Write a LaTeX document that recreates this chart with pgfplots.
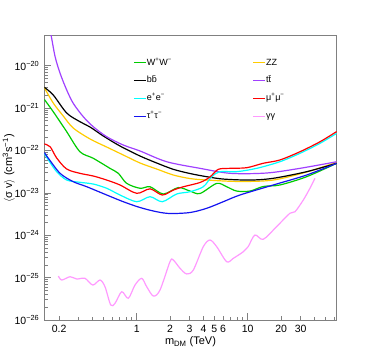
\documentclass[border=0pt]{standalone}
\usepackage{fontspec}
\setmainfont{Liberation Sans}
\usepackage{pgfplots}
\pgfplotsset{compat=1.18}

\definecolor{framegray}{RGB}{128,128,128}
\definecolor{cww}{RGB}{0,204,0}
\definecolor{czz}{RGB}{255,204,0}
\definecolor{cbb}{RGB}{0,0,0}
\definecolor{ctt}{RGB}{160,64,255}
\definecolor{cee}{RGB}{0,255,255}
\definecolor{cmm}{RGB}{255,0,0}
\definecolor{ctau}{RGB}{20,20,240}
\definecolor{cgg}{RGB}{255,153,255}

\begin{document}
\begin{tikzpicture}
\begin{axis}[scale only axis, width=292.4pt, height=285pt,
    xmode=log, ymode=log,
    xmin=0.147, xmax=63.4, ymin=1e-26, ymax=5.27e-20,
    axis line style={draw=framegray, line width=1pt},
    tick style={draw=framegray, line width=0.6pt},
    tick align=inside, xtick pos=left, ytick pos=left,
    major tick length=7pt, minor tick length=3.5pt,
    xtick={1,10}, xticklabels={1,10},
    extra x ticks={0.2,2,3,4,5,6,20,30},
    extra x tick labels={0.2,2,3,4,5,6,20,30},
    extra x tick style={major tick length=4pt},
    minor xtick={0.3,0.4,0.5,0.6,0.7,0.8,0.9,7,8,9,40,50,60},
    ytick={1e-26,1e-25,1e-24,1e-23,1e-22,1e-21,1e-20},
    yticklabels={10\textsuperscript{−26},10\textsuperscript{−25},10\textsuperscript{−24},10\textsuperscript{−23},10\textsuperscript{−22},10\textsuperscript{−21},10\textsuperscript{−20}},
    tick label style={font=\fontsize{10.5}{12}\selectfont},
    xticklabel style={anchor=base, yshift=-12pt},
    yticklabel style={xshift=-1.5pt},
    xlabel={m\textsubscript{DM} (TeV)},
    xlabel style={at={(axis description cs:0.5,-0.086)}, anchor=base, font=\fontsize{11}{13}\selectfont},
    ylabel={$\langle$σ v$\rangle$ (cm\textsuperscript{3}s\textsuperscript{−1})},
    ylabel style={at={(axis description cs:-0.100,0.532)}, anchor=south, inner sep=0pt, font=\fontsize{11}{13}\selectfont},
    legend columns=2, legend cell align=left,
    legend style={at={(0.3034,0.9218)}, anchor=north west, draw=none, fill=none,
        inner sep=0pt, row sep=7.9pt, font=\fontsize{9}{11}\selectfont,
        nodes={inner sep=0.5pt, text height=7pt, text depth=2pt, text width=105pt}},
    legend image code/.code={\draw[#1] (0pt,0pt) -- (12pt,0pt);},
    every axis plot/.append style={line width=1.2pt, smooth, tension=0.5},
    clip=true]
\coordinate (ll) at (rel axis cs:0,0);
\coordinate (ur) at (rel axis cs:1,1);

% W+W-
\addplot[cww] coordinates {(0.147,1.60e-21) (0.177,8.18e-22) (0.234,2.76e-22) (0.308,9.31e-23)
 (0.406,6.52e-23) (0.574,3.78e-23) (0.683,2.88e-23) (0.813,1.67e-23) (1.071,1.28e-23) (1.318,1.39e-23)
 (1.737,9.38e-24) (2.37,1.33e-23) (3.022,1.10e-23) (3.717,9.62e-24) (5.26,1.67e-23) (6.47,1.39e-23)
 (7.96,1.10e-23) (10.5,1.10e-23) (13.8,1.41e-23) (19.5,1.53e-23) (34.0,2.40e-23) (63.4,4.97e-23)};
\addlegendentry{W\textsuperscript{+}W\textsuperscript{−}}
% ZZ
\addplot[czz] coordinates {(0.147,3.04e-21) (0.177,1.31e-21) (0.218,6.47e-22) (0.268,3.37e-22)
 (0.380,1.86e-22) (0.537,1.20e-22) (0.757,7.80e-23) (1.071,5.05e-23) (1.514,3.64e-23) (2.137,2.63e-23)
 (3.022,2.17e-23) (4.27,2.00e-23) (8.52,1.85e-23) (17.0,2.00e-23) (34.0,3.10e-23) (63.4,5.24e-23)};
\addlegendentry{ZZ}
% b bbar
\addplot[cbb] coordinates {(0.147,3.08e-21) (0.177,2.03e-21) (0.234,7.62e-22) (0.308,4.75e-22)
 (0.380,3.56e-22) (0.500,2.19e-22) (0.707,1.27e-22) (1.071,7.38e-23) (1.514,5.05e-23) (2.137,3.58e-23)
 (3.022,2.85e-23) (4.27,2.40e-23) (6.03,2.11e-23) (10.5,2.00e-23) (17.0,2.20e-23) (34.0,3.15e-23)
 (63.4,4.97e-23)};
\addlegendentry{b\={b}}
% t tbar
\addplot[ctt] coordinates {(0.160,9e-20) (0.169,5.27e-20) (0.184,1.62e-20) (0.204,6.58e-21)
 (0.234,2.66e-21) (0.268,1.29e-21) (0.330,6.24e-22) (0.406,3.62e-22) (0.537,2.10e-22) (0.757,1.34e-22)
 (1.071,9.7e-23) (1.863,5.41e-23) (3.717,3.78e-23) (7.0,2.88e-23) (14.8,2.93e-23) (29.6,3.78e-23)
 (63.4,5.41e-23)};
\addlegendentry{t\={t}}
% e+e-
\addplot[cee] coordinates {(0.147,8.45e-23) (0.160,5.95e-23) (0.190,3.15e-23) (0.234,2.00e-23)
 (0.308,1.77e-23) (0.406,1.61e-23) (0.537,1.28e-23) (0.707,8.88e-24) (1.0,6.17e-24) (1.318,8.09e-24)
 (1.70,6.17e-24) (2.293,9.38e-24) (3.022,1.06e-23) (3.981,1.39e-23) (4.74,2.40e-23) (5.63,3.15e-23)
 (7.96,3.15e-23) (12.05,3.78e-23) (19.5,5.41e-23) (29.6,8.55e-23) (44.8,1.47e-22) (63.4,2.53e-22)};
\addlegendentry{e\textsuperscript{+}e\textsuperscript{−}}
% mu+mu-
\addplot[cmm] coordinates {(0.147,1.42e-22) (0.166,1.22e-22) (0.190,6.63e-23) (0.234,3.64e-23)
 (0.308,2.88e-23) (0.406,2.49e-23) (0.537,2.00e-23) (0.707,1.53e-23) (1.0,9.73e-24) (1.318,1.24e-23)
 (1.70,8.88e-24) (2.137,1.16e-23) (2.63,1.39e-23) (3.717,1.75e-23) (4.57,2.36e-23) (5.43,3.58e-23)
 (6.93,3.78e-23) (9.80,3.91e-23) (13.8,4.97e-23) (19.5,5.95e-23) (29.6,9.31e-23) (44.8,1.60e-22)
 (63.4,2.79e-22)};
\addlegendentry{μ\textsuperscript{+}μ\textsuperscript{−}}
% tau+tau-
\addplot[ctau] coordinates {(0.147,8.91e-23) (0.160,6.52e-23) (0.204,2.88e-23) (0.268,1.83e-23)
 (0.355,1.39e-23) (0.537,8.88e-24) (0.757,6.17e-24) (1.071,4.50e-24) (1.514,3.58e-24) (2.0,3.25e-24)
 (3.022,3.43e-24) (4.27,4.31e-24) (6.03,6.17e-24) (8.52,8.88e-24) (17.0,1.53e-23) (34.0,2.63e-23)
 (63.4,4.97e-23)};
\addlegendentry{τ\textsuperscript{+}τ\textsuperscript{−}}
% gamma gamma
\addplot[cgg] coordinates {(0.197,1.09e-25) (0.211,8.77e-26) (0.251,1.05e-25) (0.288,9.27e-26)
 (0.342,9.61e-26) (0.402,6.68e-26) (0.467,8.77e-26) (0.518,6.10e-26) (0.583,2.26e-26) (0.638,2.48e-26)
 (0.733,4.65e-26) (0.840,3.25e-26) (0.965,6.68e-26) (1.109,9.61e-26) (1.230,6.10e-26) (1.412,3.68e-26)
 (1.622,5.10e-26) (1.995,2.37e-25) (2.137,2.60e-25) (2.455,1.66e-25) (2.82,1.22e-25) (3.236,1.51e-25)
 (3.981,5.36e-25) (4.57,7.71e-25) (5.26,5.36e-25) (6.47,2.37e-25) (7.42,2.85e-25) (9.13,4.08e-25)
 (10.1,5.36e-25) (11.6,1.01e-24) (13.8,8.00e-25) (18.2,1.59e-24) (24.0,3.29e-24) (26.7,3.58e-24)
 (31.7,6.76e-24) (36.4,1.28e-23) (40.4,2.20e-23)};
\addlegendentry{γγ}
\end{axis}
\pgfresetboundingbox
\path ([shift={(-44.3pt,-36pt)}]ll) rectangle ([shift={(37.3pt,35pt)}]ur);
\end{tikzpicture}
\end{document}
